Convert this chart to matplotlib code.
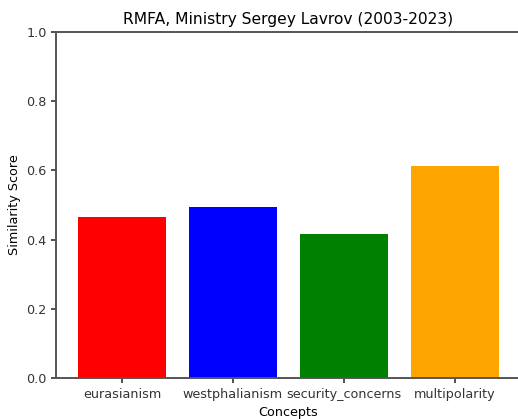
import matplotlib
matplotlib.use("Agg")
import matplotlib.pyplot as plt

# Similarity scores per concept
concepts = ["eurasianism", "westphalianism", "security_concerns", "multipolarity"]
scores = [0.464, 0.495, 0.417, 0.613]
colors = ["red", "blue", "green", "orange"]

fig = plt.figure(figsize=(5.18, 4.19), dpi=100)
ax = fig.add_axes([0.109, 0.098, 0.896, 0.826])

ax.bar(concepts, scores, color=colors)
ax.set_ylim(0, 1.0)
ax.set_xlabel("Concepts", fontsize=9.2)
ax.set_ylabel("Similarity Score", fontsize=9.2)
ax.set_title("RMFA, Ministry Sergey Lavrov (2003-2023)", fontsize=11.2)
ax.tick_params(labelsize=9.2, width=1.2, colors="#333333")
for side in ax.spines.values():
    side.set_linewidth(1.4)
    side.set_color("#555555")

fig.savefig("out.png", dpi=100)
